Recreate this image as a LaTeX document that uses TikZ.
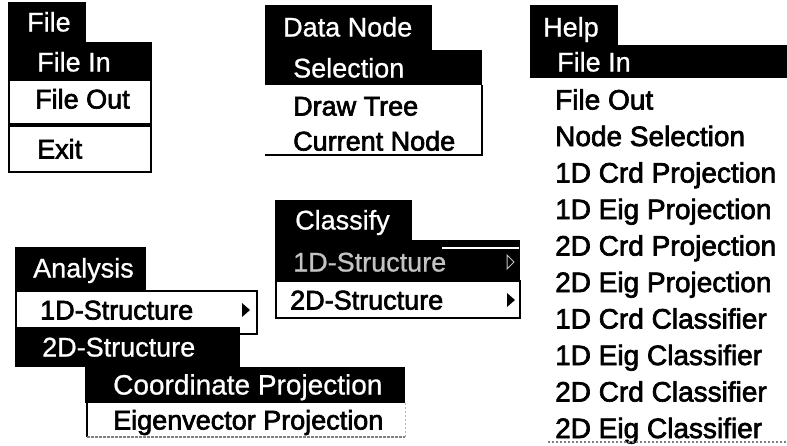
\documentclass[tikz,border=0pt]{standalone}
\usepackage{fontspec}
\setmainfont{Liberation Sans}
\newfontfamily\heavyfont[FakeBold=2.4]{Liberation Sans}
\newfontfamily\lightfont[FakeBold=0.8]{Liberation Sans}
\definecolor{dimgray}{RGB}{195,195,195}
\begin{document}
\begin{tikzpicture}[x=1pt,y=-1pt,
  blackbar/.style={fill=black},
  whitebox/.style={draw=black, line width=1.6pt, fill=white},
  wtxt/.style={anchor=west, inner sep=0pt, text height=19pt, text depth=0pt, text=white, font=\lightfont\fontsize{27}{30}\selectfont},
  btxt/.style={anchor=west, inner sep=0pt, text height=19pt, text depth=0pt, text=black, font=\heavyfont\fontsize{27}{30}\selectfont},
  htxt/.style={btxt, font=\heavyfont\fontsize{28}{30}\selectfont},
  dimtxt/.style={wtxt, text=dimgray},
  arrowtip/.style={fill=black}
]
\useasboundingbox (0,0) rectangle (787,445);

% ---------- File menu ----------
\fill[blackbar] (8,2) rectangle (86,42);
\fill[blackbar] (8,42) rectangle (152,80);
\draw[whitebox] (9,80) rectangle (151,124);
\draw[whitebox] (9,126) rectangle (151,172);
\node[wtxt] (file) at (27,22) {File};
\node[wtxt] (filein) at (37,62) {File In};
\node[btxt] (fileout) at (35,99) {File Out};
\node[btxt] (exit) at (37,149) {Exit};

% ---------- Data Node menu ----------
\fill[blackbar] (265,5) rectangle (432,50);
\fill[blackbar] (265,50) rectangle (482,85);
\draw[black, line width=1.8pt] (482,85) -- (482,155) -- (265,155);
\node[wtxt] (datanode) at (283,27) {Data Node};
\node[wtxt] (selection) at (293,68) {Selection};
\node[btxt] (drawtree) at (293,106) {Draw Tree};
\node[btxt] (currentnode) at (293,141) {Current Node};

% ---------- Help menu ----------
\fill[blackbar] (530,5) rectangle (618,45);
\fill[blackbar] (530,45) rectangle (787,78);
\node[wtxt] (help) at (543,27) {Help};
\node[wtxt] (hfilein) at (557,62) {File In};
\node[htxt] (hfileout) at (555,100) {File Out};
\node[htxt] (hnodesel) at (555,136.5) {Node Selection};
\node[htxt] (h1dcrdp) at (555,173) {1D Crd Projection};
\node[htxt] (h1deigp) at (555,209.5) {1D Eig Projection};
\node[htxt] (h2dcrdp) at (555,246) {2D Crd Projection};
\node[htxt] (h2deigp) at (555,282.5) {2D Eig Projection};
\node[htxt] (h1dcrdc) at (555,319) {1D Crd Classifier};
\node[htxt] (h1deigc) at (555,355.5) {1D Eig Classifier};
\node[htxt] (h2dcrdc) at (555,392) {2D Crd Classifier};
\node[htxt] (h2deigc) at (555,428.5) {2D Eig Classifier};
\draw[gray, line width=1.2pt, dash pattern=on 2pt off 2pt] (548,442) -- (787,442);

% ---------- Classify menu ----------
\fill[blackbar] (275,200) rectangle (412,240);
\fill[blackbar] (275,240) rectangle (520,281);
\draw[white, line width=1.4pt] (442,248) -- (519,248);
\draw[whitebox] (276,281) rectangle (520,318);
\node[wtxt] (classify) at (295,220) {Classify};
\node[dimtxt] (c1d) at (293,262) {1D-Structure};
\draw[dimgray, line width=1pt] (507,255) -- (514,262) -- (507,269) -- cycle;
\node[btxt] (c2d) at (290,300) {2D-Structure};
\fill[arrowtip] (507,293) -- (515,300) -- (507,307) -- cycle;

% ---------- Analysis menu ----------
\fill[blackbar] (15,247) rectangle (146,291);
\draw[whitebox] (16,291) rectangle (257,334);
\fill[blackbar] (15,327) rectangle (240,367);
\fill[blackbar] (85,367) rectangle (405,403);
\draw[black, line width=1.4pt] (87,403) -- (87,437);
\draw[gray!60, line width=1pt, dash pattern=on 2pt off 2pt] (405,403) -- (405,437);
\draw[gray, line width=1.2pt, dash pattern=on 3pt off 1pt] (87,437) -- (405,437);
\node[wtxt] (analysis) at (33,268) {Analysis};
\node[btxt] (a1d) at (40,310) {1D-Structure};
\fill[arrowtip] (242,303) -- (250,310) -- (242,317) -- cycle;
\node[wtxt] (a2d) at (42,347) {2D-Structure};
\node[wtxt, font=\lightfont\fontsize{28}{30}\selectfont] (coord) at (113,385) {Coordinate Projection};
\node[btxt] (eigen) at (113,420) {Eigenvector Projection};
\end{tikzpicture}
\end{document}
